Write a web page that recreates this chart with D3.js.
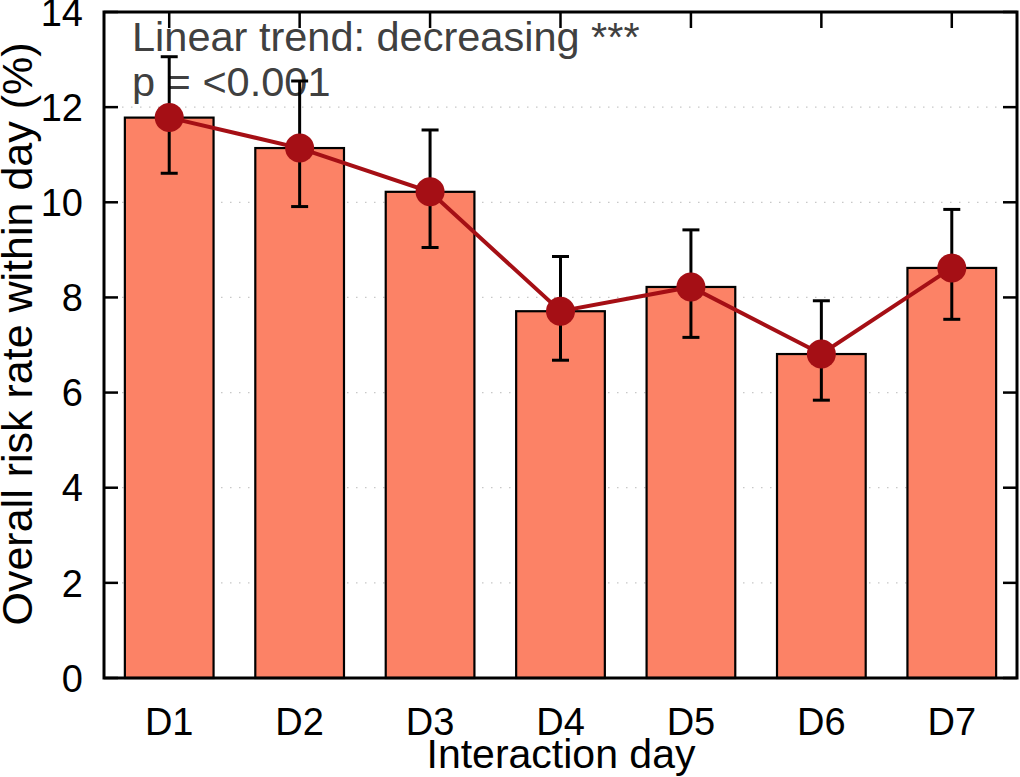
<!DOCTYPE html>
<html>
<head>
<meta charset="utf-8">
<script src="https://cdn.jsdelivr.net/npm/d3@7"></script>
<style>
  body { margin: 0; background: #fff; }
  svg { display: block; font-family: "Liberation Sans", Arial, sans-serif; }
</style>
</head>
<body>
<div id="chart"></div>
<script>
// chart values
const days = ["D1", "D2", "D3", "D4", "D5", "D6", "D7"];
const rates = [11.78, 11.14, 10.22, 7.71, 8.22, 6.81, 8.62];
const errLow = [10.61, 9.91, 9.05, 6.68, 7.16, 5.84, 7.54];
const errHigh = [13.06, 12.55, 11.52, 8.86, 9.42, 7.93, 9.85];
const yTicks = [0, 2, 4, 6, 8, 10, 12, 14];
const trendLines = ["Linear trend: decreasing ***", "p = <0.001"];

const W = 1020, H = 777;
const margin = { top: 12, right: 3, bottom: 99, left: 104 };
const width = W - margin.left - margin.right;
const height = H - margin.top - margin.bottom;

const svg = d3.select("#chart").append("svg")
  .attr("width", W)
  .attr("height", H);

const g = svg.append("g")
  .attr("transform", `translate(${margin.left},${margin.top})`);

const x = d3.scaleBand().domain(days).range([0, width]).paddingInner(0).paddingOuter(0);
const y = d3.scaleLinear().domain([0, 14]).range([height, 0]);
const cx = d => x(d) + x.bandwidth() / 2;
const barW = x.bandwidth() * 0.68;

// dotted grid
g.append("g").selectAll("line")
  .data(yTicks.filter(t => t > 0 && t < 14))
  .join("line")
  .attr("x1", 0).attr("x2", width)
  .attr("y1", d => y(d)).attr("y2", d => y(d))
  .attr("stroke", "#c8c8c8")
  .attr("stroke-width", 1.2)
  .attr("stroke-dasharray", "1.5,7.5");

// tick marks (inside the frame, mirrored)
const tk = 14;
g.append("g").selectAll("line")
  .data(yTicks)
  .join("line")
  .attr("x1", 0).attr("x2", tk)
  .attr("y1", d => y(d)).attr("y2", d => y(d))
  .attr("stroke", "#000").attr("stroke-width", 2.5);
g.append("g").selectAll("line")
  .data(yTicks)
  .join("line")
  .attr("x1", width).attr("x2", width - tk)
  .attr("y1", d => y(d)).attr("y2", d => y(d))
  .attr("stroke", "#000").attr("stroke-width", 2.5);
g.append("g").selectAll("line")
  .data(days)
  .join("line")
  .attr("x1", cx).attr("x2", cx)
  .attr("y1", 0).attr("y2", tk + 2)
  .attr("stroke", "#000").attr("stroke-width", 2.5);
g.append("g").selectAll("line")
  .data(days)
  .join("line")
  .attr("x1", cx).attr("x2", cx)
  .attr("y1", height).attr("y2", height - tk)
  .attr("stroke", "#000").attr("stroke-width", 2.5);

// tick labels
g.append("g").selectAll("text")
  .data(yTicks)
  .join("text")
  .attr("x", -21)
  .attr("y", d => y(d))
  .attr("dy", "0.36em")
  .attr("text-anchor", "end")
  .attr("font-size", 38)
  .text(d => d);

g.append("g").selectAll("text")
  .data(days)
  .join("text")
  .attr("x", cx)
  .attr("y", height + 57)
  .attr("text-anchor", "middle")
  .attr("font-size", 38)
  .text(d => d);

// axis titles
svg.append("text")
  .attr("transform", "translate(32, 334) rotate(-90)")
  .attr("text-anchor", "middle")
  .attr("font-size", 43)
  .text("Overall risk rate within day (%)");

svg.append("text")
  .attr("x", 561)
  .attr("y", 768)
  .attr("text-anchor", "middle")
  .attr("font-size", 41)
  .text("Interaction day");

// annotation
g.append("g").selectAll("text")
  .data(trendLines)
  .join("text")
  .attr("x", 28)
  .attr("y", (d, i) => 39 + i * 45)
  .attr("font-size", 41.5)
  .attr("fill", "#404040")
  .text(d => d);

// bars
g.append("g").selectAll("rect")
  .data(days)
  .join("rect")
  .attr("x", d => cx(d) - barW / 2)
  .attr("y", (d, i) => y(rates[i]))
  .attr("width", barW)
  .attr("height", (d, i) => y(0) - y(rates[i]))
  .attr("fill", "#fc8266")
  .attr("stroke", "#000")
  .attr("stroke-width", 2.2);

// error bars
const eb = g.append("g").attr("stroke", "#000").attr("stroke-width", 3);
days.forEach((d, i) => {
  eb.append("line")
    .attr("x1", cx(d)).attr("x2", cx(d))
    .attr("y1", y(errLow[i])).attr("y2", y(errHigh[i]));
  [errLow[i], errHigh[i]].forEach(v => {
    eb.append("line")
      .attr("x1", cx(d) - 8.5).attr("x2", cx(d) + 8.5)
      .attr("y1", y(v)).attr("y2", y(v));
  });
});

// trend line and points
const line = d3.line().x((d, i) => cx(days[i])).y(d => y(d));
g.append("path")
  .datum(rates)
  .attr("d", line)
  .attr("fill", "none")
  .attr("stroke", "#a50f15")
  .attr("stroke-width", 4);

g.append("g").selectAll("circle")
  .data(rates)
  .join("circle")
  .attr("cx", (d, i) => cx(days[i]))
  .attr("cy", d => y(d))
  .attr("r", 14.5)
  .attr("fill", "#a50f15");

// frame
g.append("rect")
  .attr("x", 0).attr("y", 0)
  .attr("width", width).attr("height", height)
  .attr("fill", "none")
  .attr("stroke", "#000")
  .attr("stroke-width", 3);
</script>
</body>
</html>
